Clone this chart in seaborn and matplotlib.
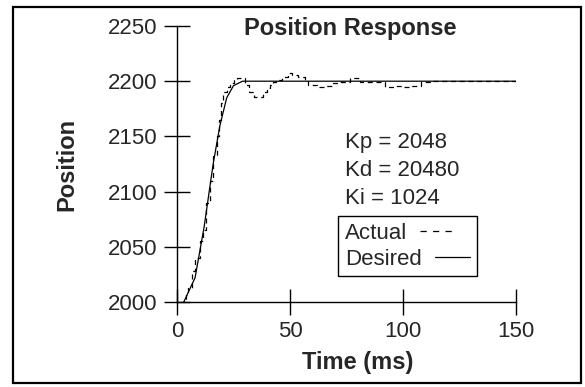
import matplotlib
matplotlib.use("Agg")
import matplotlib.pyplot as plt
from matplotlib.patches import Rectangle
from matplotlib.lines import Line2D
import seaborn as sns

# desired trajectory (solid)
desired_t = [3, 8, 12, 16, 19, 22, 25, 29, 150]
desired_y = [2000, 2022, 2068, 2125, 2160, 2185, 2196, 2200, 2200]

# actual response (dashed, stepped)
actual_t = [1.5, 4, 5, 6.5, 8, 10, 11.5, 13, 14.5, 16, 17.5, 18.5, 19.5, 20.5, 22, 23.5,
            25, 26.5, 28, 30, 32, 34, 37, 38, 40, 41, 42.5, 44, 46.5, 49, 51, 53.5,
            56.5, 58, 62, 66, 68.5, 72, 76.5, 80, 81, 85, 88, 92, 96, 100, 104, 108,
            112, 150]
actual_y = [2000, 2006, 2013, 2028, 2040, 2055, 2065, 2090, 2110, 2132, 2150, 2165,
            2180, 2190, 2195, 2198, 2202, 2203, 2203, 2197, 2190, 2186, 2186, 2190,
            2194, 2197, 2199, 2201, 2204, 2207, 2206, 2204, 2201, 2197, 2195, 2196,
            2198, 2199, 2203, 2203, 2199, 2199, 2199, 2195, 2196, 2195, 2196, 2199,
            2200, 2200]

gains = ["Kp = 2048", "Kd = 20480", "Ki = 1024"]

sns.set_style("ticks")
plt.rcParams["font.family"] = ["Liberation Sans", "DejaVu Sans"]

fig = plt.figure(figsize=(5.85, 3.87), dpi=100)
ax = fig.add_axes([177/585, 1-302/387, 339/585, 276/387])

sns.lineplot(x=desired_t, y=desired_y, color="black", linewidth=0.9, ax=ax,
             estimator=None, sort=False)
sns.lineplot(x=actual_t, y=actual_y, color="black", linewidth=0.9, linestyle=(0, (4, 3)),
             drawstyle="steps-post", ax=ax, estimator=None, sort=False)

ax.set_xlim(0, 150)
ax.set_ylim(2000, 2250)
ax.set_xticks([0, 50, 100, 150])
ax.set_yticks([2000, 2050, 2100, 2150, 2200, 2250])
ax.tick_params(direction="inout", length=19, width=1, labelsize=16, pad=4.5, color="black")
sns.despine(ax=ax)
for s in ["left", "bottom"]:
    ax.spines[s].set_linewidth(1)
    ax.spines[s].set_color("black")
ax.margins(0)

ax.set_xlabel("Time (ms)", fontsize=17, fontweight="bold")
ax.xaxis.set_label_coords(0.532, -0.178)
ax.set_ylabel("Position", fontsize=17, fontweight="bold")
ax.yaxis.set_label_coords(-0.29, 0.5)

ax.text(0.51, 0.9675, "Position Response", transform=ax.transAxes, ha="center",
        va="baseline", fontsize=17, fontweight="bold")

for i, g in enumerate(gains):
    ax.text(0.4956, 0.559 - i*0.1025, g, transform=ax.transAxes, fontsize=16,
            va="baseline", ha="left")

handles = [Line2D([], [], color="black", lw=0.9, linestyle=(0, (5, 5))),
           Line2D([], [], color="black", lw=0.9)]
leg = ax.legend(handles, ["Actual", "Desired"], markerfirst=False, loc="upper left",
                bbox_to_anchor=(0.475, 0.31), borderaxespad=0, borderpad=0.3,
                handlelength=1.6, handletextpad=0.6, labelspacing=0.2, fontsize=16,
                frameon=True, fancybox=False, framealpha=1, edgecolor="black")
leg.get_frame().set_linewidth(1)
# left-align the label column
for col in leg._legend_handle_box.get_children():
    col.align = "left"

fig.patches.append(Rectangle((13/585, 1-383/387), (581-13)/585, (383-7)/387,
                             transform=fig.transFigure, fill=False, lw=1.6,
                             edgecolor="black"))

fig.savefig("out.png", dpi=100)
